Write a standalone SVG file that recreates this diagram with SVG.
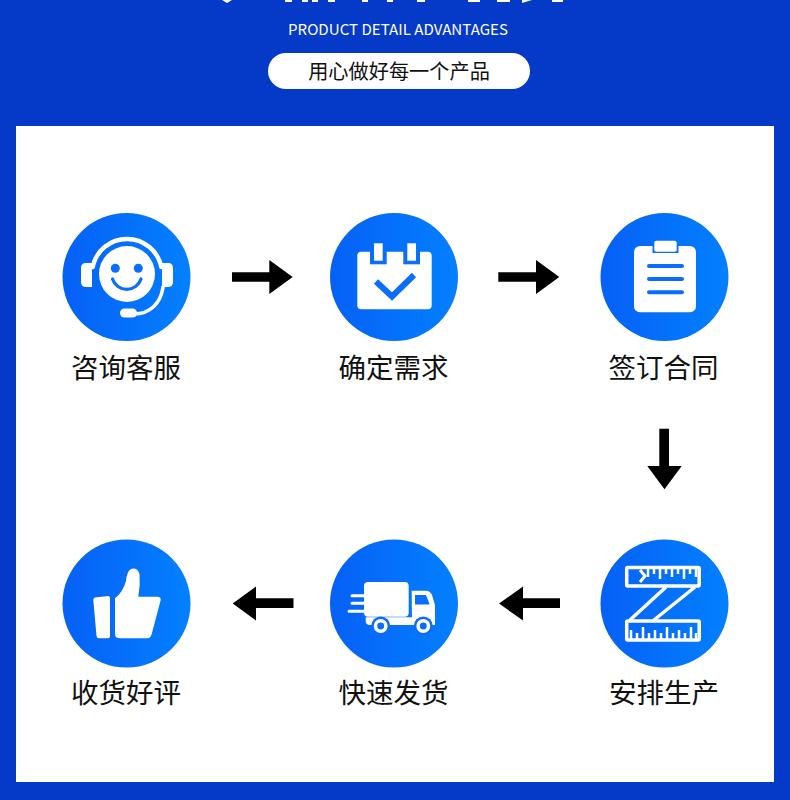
<svg xmlns="http://www.w3.org/2000/svg" width="790" height="800" viewBox="0 0 790 800">
<defs>
<linearGradient id="g" x1="0" y1="0" x2="1" y2="0"><stop offset="0" stop-color="#0660f6"/><stop offset="1" stop-color="#0380ff"/></linearGradient>
</defs>
<style>
.c{fill:url(#g)}
.w{fill:#fff}
.b{fill:#0a6efb}
.bl{fill:none;stroke:#0a6efb;stroke-linecap:round}
.wl{fill:none;stroke:#fff;stroke-linecap:round}
.t{font-family:"Noto Sans CJK SC","Noto Sans",sans-serif;font-size:27.5px;font-weight:400;fill:#111;text-anchor:middle}
.a{fill:#000}
</style>
<rect width="790" height="800" fill="#0539c8"/>
<g id="cropped-heading" fill="#fff">
<path d="M222 0h10l-5 3z"/>
<rect x="285" y="0" width="7" height="2"/><rect x="302" y="0" width="6" height="2"/><rect x="312" y="0" width="6" height="2"/><rect x="328" y="0" width="7" height="2"/><rect x="362" y="0" width="6" height="2"/><rect x="387" y="0" width="6" height="2"/><rect x="417" y="0" width="8" height="2"/><rect x="468" y="0" width="12" height="2"/><rect x="497" y="0" width="13" height="2"/><path d="M522 0h10l-10 3z"/><rect x="552" y="0" width="11" height="2"/>
</g>
<text x="398" y="35" font-family="'Noto Sans CJK SC','Noto Sans',sans-serif" font-size="15" font-weight="400" fill="#fff" text-anchor="middle" textLength="220" lengthAdjust="spacingAndGlyphs">PRODUCT DETAIL ADVANTAGES</text>
<g id="subtitle-pill">
<rect x="268" y="53" width="262" height="36" rx="18" fill="#fff"/>
<text x="399" y="79" font-family="'Noto Sans CJK SC',sans-serif" font-size="20.200" font-weight="400" fill="#111" text-anchor="middle">用心做好每一个产品</text>
</g>
<rect id="panel" x="16" y="126" width="758" height="656" fill="#fff"/>

<g id="node-consult">
<circle class="c" cx="126.500" cy="277" r="64"/>
<path class="w" d="M92 263H86Q81 263 81 268V282Q81 287 86 287H92ZM162 263H168Q173 263 173 268V282Q173 287 168 287H162Z"/>
<path class="wl" stroke-width="4.500" d="M92.700 267A35 35 0 0 1 161.300 267"/>
<circle class="w" cx="127" cy="274" r="28"/>
<circle class="b" cx="115.300" cy="268.300" r="4.500"/><circle class="b" cx="138.300" cy="268.300" r="4.500"/>
<path class="bl" stroke-width="3.200" d="M112.500 279A15 15 0 0 0 141 279"/>
<path class="wl" stroke-width="3.500" d="M163 287C161 303 150 314 134 314"/>
<rect class="w" x="120" y="308.500" width="17" height="9" rx="4.500"/>
<text class="t" x="126" y="378">咨询客服</text>
</g>

<g id="node-confirm">
<circle class="c" cx="394" cy="277" r="64"/>
<rect class="w" x="357.300" y="251.700" width="74.400" height="57.600" rx="4"/>
<rect class="b" x="370" y="251" width="16.700" height="13.300"/><rect class="b" x="403.300" y="251" width="16.700" height="13.300"/>
<rect class="w" x="374" y="243.300" width="8.700" height="17.400"/><rect class="w" x="407.300" y="243.300" width="8.700" height="17.400"/>
<path fill="none" stroke="#0a6efb" stroke-width="6" d="M376 281.500L392 296.500L414 275"/>
<text class="t" x="393.500" y="378">确定需求</text>
</g>

<g id="node-sign">
<circle class="c" cx="664.500" cy="277" r="64"/>
<rect class="w" x="634" y="246" width="62" height="66.300" rx="6"/>
<path class="b" d="M652.500 246H678.500V253H652.500Z"/>
<rect class="w" x="654.300" y="240.700" width="22.400" height="11" rx="2"/>
<path class="bl" stroke-width="4" d="M649 266H682M649 279H682M649 292.300H682"/>
<text class="t" x="663.500" y="378">签订合同</text>
</g>

<g id="node-produce">
<circle class="c" cx="664.500" cy="603.500" r="64"/>
<g fill="none" stroke="#fff" stroke-width="3.500">
<rect x="626.700" y="567.500" width="72.500" height="18.500" rx="1"/>
<rect x="626.700" y="621" width="72.500" height="19" rx="1"/>
<path d="M695 587L654 620M666 587L630 620"/>
</g>
<path fill="none" stroke="#fff" stroke-width="3" d="M640 570L645 576L640 582"/>
<path fill="none" stroke="#fff" stroke-width="2.500" d="M648 568V577M654 568V574M660 568V579M666 568V574M672 568V577M678 568V574M684 568V579M690 568V574M696 568V577M631 639V630M637 639V633M643 639V627M649 639V633M655 639V630M661 639V633M667 639V627M673 639V633M679 639V630M685 639V633M691 639V627M696 639V633"/>
<text class="t" x="664" y="703">安排生产</text>
</g>

<g id="node-ship">
<circle class="c" cx="394" cy="603.500" r="64"/>
<rect class="w" x="364" y="582" width="44.700" height="34.700" rx="4"/>
<path class="w" d="M411.700 590.700H426Q430 590.700 432 595L435 605V625H412Z"/>
<path class="w" d="M365.700 617.300H412V625H370Q365.700 625 365.700 621Z"/>
<path class="b" d="M415 595H426L429.500 604V604.500H415Z"/>
<path class="wl" stroke-width="3" d="M352 595.700H364M352 603.300H364M349 611.300H364"/>
<circle cx="380.700" cy="626" r="9.500" fill="#0a6efb"/><circle cx="423.300" cy="626" r="9.500" fill="#0a6efb"/>
<circle cx="380.700" cy="626" r="5.200" fill="#0a6efb" stroke="#fff" stroke-width="3.500"/><circle cx="423.300" cy="626" r="5.200" fill="#0a6efb" stroke="#fff" stroke-width="3.500"/>
<text class="t" x="393.500" y="703">快速发货</text>
</g>

<g id="node-review">
<circle class="c" cx="126.500" cy="603.500" r="64"/>
<path class="w" d="M95 597.500L108 596Q110 596 110 598V636Q110 638.300 108 638.300H99Q96.700 638.300 96.500 636L93.300 600Q93.300 598 95 597.500Z"/>
<path class="w" d="M115 598.300Q123 592 126 581Q127 571 131 569Q137 567 139.500 574Q140.500 585 138.300 596.700H157Q161 596.700 160.700 600L152 633Q151 638.300 147 638.300H120Q115 638.300 115 634Z"/>
<text class="t" x="126" y="703">收货好评</text>
</g>

<g id="connectors">
<path class="a" d="M232 272.300H269.300V260L292.700 277L269.300 294V281.700H232Z"/>
<path class="a" d="M498.300 272.300H536V260L559.300 277L536 294V281.700H498.300Z"/>
<path class="a" d="M659.300 428.700H669V466H681.700L664.500 489.300L647.300 466H659.300Z"/>
<path class="a" d="M293.500 598.300H256V586.500L232.700 603.500L256 620.500V608H293.500Z"/>
<path class="a" d="M560 598.300H523V586.500L499 603.500L523 620.500V608H560Z"/>
</g>
</svg>
